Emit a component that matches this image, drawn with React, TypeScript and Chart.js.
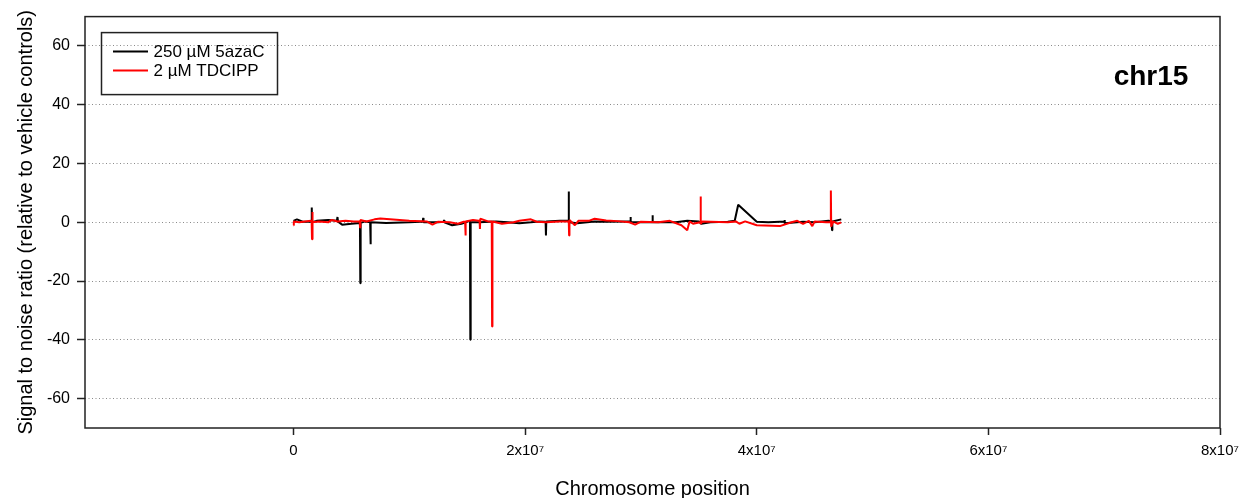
import React, { useEffect, useRef } from "react";
import { Chart, registerables } from "chart.js";

Chart.register(...registerables);

// ---- Data (positions in megabases, values = signal-to-noise ratio) ----
const xTicks = [0, 2e7, 4e7, 6e7, 8e7];
const xTickLabels = ["0", "2x10⁷", "4x10⁷", "6x10⁷", "8x10⁷"];
const yTicks = [-60, -40, -20, 0, 20, 40, 60];

const legendLabels = ["250 µM 5azaC", "2 µM TDCIPP"];
const chromosomeLabel = "chr15";

const azaPositionsMb = [
  0.0, 0.3, 0.8, 1.5, 1.56, 1.58, 1.6, 2.0, 3.0, 3.75, 3.8, 3.85, 4.2, 5.0,
  5.74, 5.77, 5.8, 6.2, 6.62, 6.65, 6.68, 8.0, 10.0, 11.0, 11.17, 11.2, 11.23,
  12.5, 12.97, 13.0, 13.03, 13.7, 14.5, 15.2, 15.24, 15.27, 15.3, 16.0, 17.5,
  18.5, 19.5, 20.5, 21.2, 21.77, 21.8, 21.83, 23.0, 23.73, 23.76, 23.79, 24.5,
  26.0, 27.0, 29.0, 29.07, 29.1, 29.13, 30.5, 30.97, 31.0, 31.03, 33.0, 34.0,
  35.0, 35.2, 36.0, 37.5, 38.1, 38.4, 40.0, 41.0, 42.0, 42.37, 42.4, 42.43,
  44.0, 45.0, 46.2, 46.47, 46.5, 46.53, 47.3,
];
const azaValues = [
  0.5, 1.0, 0.2, 0.3, 0.2, 5.0, 0.0, 0.5, 0.8, 0.5, 1.8, 0.2, -0.8, -0.5,
  -0.2, -20.7, -0.2, 0.3, 0.0, -7.5, 0.0, -0.2, 0.0, 0.2, 0.2, 1.5, 0.0,
  0.0, 0.2, 0.8, 0.0, -1.0, -0.5, 0.5, 0.2, -40.0, 0.0, 0.0, 0.3,
  0.0, -0.3, 0.0, 0.3, 0.2, -4.5, 0.3, 0.5, 0.5, 10.5, 0.0, -0.3,
  0.3, 0.2, 0.3, 0.3, 1.8, 0.0, 0.0, 0.0, 2.4, 0.0, 0.0, 0.5,
  0.3, -0.5, 0.0, 0.2, 0.5, 6.0, 0.2, 0.0, 0.2, 0.2, 0.8, -0.3,
  0.2, 0.0, 0.5, 0.3, -2.7, 0.3, 1.0,
];

const tdcippPositionsMb = [
  0.0, 0.03, 0.5, 1.5, 1.57, 1.6, 1.63, 1.66, 2.2, 3.0, 3.3, 3.8, 4.5, 5.2,
  5.72, 5.75, 5.78, 6.3, 7.0, 7.5, 10.0, 11.5, 12.0, 12.5, 13.5, 14.2, 14.7,
  14.82, 14.85, 14.88, 15.5, 16.0, 16.07, 16.1, 16.13, 16.8, 17.12, 17.15,
  17.18, 18.0, 19.0, 19.5, 20.5, 21.0, 21.8, 23.0, 23.77, 23.8, 23.83, 24.3,
  24.6, 25.5, 26.0, 27.0, 28.0, 29.0, 29.5, 30.0, 31.5, 32.5, 33.5, 34.0, 34.2,
  34.5, 35.12, 35.15, 35.18, 35.3, 37.5, 38.2, 38.5, 39.0, 40.0, 42.0, 43.0,
  43.5, 44.0, 44.5, 44.8, 45.0, 46.0, 46.37, 46.4, 46.43, 46.6, 47.0, 47.3,
];
const tdcippValues = [
  -1.0, 0.3, 0.0, 0.5, 0.3, -5.8, 3.5, 0.0, 0.3, 0.0, 0.8, 0.3, 0.5, 0.3,
  0.3, -1.8, 0.8, 0.3, 1.0, 1.3, 0.5, 0.3, -0.8, 0.2, 0.0, -0.5, 0.2,
  0.2, -4.5, 0.3, 0.8, 0.5, 0.5, -2.3, 1.2, 0.3, 0.3, -35.5,
  0.3, -0.5, 0.0, 0.5, 1.0, 0.2, 0.0, 0.3, 0.3, -4.5, 0.8, -1.0,
  0.5, 0.5, 1.2, 0.6, 0.4, 0.0, -0.8, 0.2, 0.0, 0.5, -1.0, -2.7, 0.3,
  -0.5, 0.0, 8.8, -0.6, 0.3, 0.0, 0.3, -0.5, 0.3, -1.0, -1.3, 0.0,
  0.5, -0.5, 0.5, -1.3, 0.3, 0.0, 0.0, 10.8, -1.5, 0.3, -0.5, 0.0,
];

const FONT = "'Liberation Sans', Arial, Helvetica, sans-serif";

const toPoints = (pos: number[], vals: number[]) =>
  pos.map((p, i) => ({ x: p * 1e6, y: vals[i] }));

const overlayPlugin = {
  id: "overlay",
  afterDraw(chart: any) {
    const { ctx, chartArea } = chart;
    ctx.save();
    // frame
    ctx.strokeStyle = "#222";
    ctx.lineWidth = 1.5;
    ctx.strokeRect(chartArea.left, chartArea.top, chartArea.right - chartArea.left, chartArea.bottom - chartArea.top);

    // legend box
    const lx = chartArea.left + 16.5;
    const ly = chartArea.top + 16;
    ctx.strokeRect(lx, ly, 176, 62);
    const colors = ["#000000", "#ff0000"];
    const rows = [ly + 19, ly + 38];
    ctx.font = `17px ${FONT}`;
    ctx.textBaseline = "middle";
    ctx.textAlign = "left";
    legendLabels.forEach((lab, i) => {
      ctx.strokeStyle = colors[i];
      ctx.lineWidth = 2;
      ctx.beginPath();
      ctx.moveTo(lx + 11.5, rows[i]);
      ctx.lineTo(lx + 46.5, rows[i]);
      ctx.stroke();
      ctx.fillStyle = "#000";
      ctx.fillText(lab, lx + 52, rows[i] + 0.5);
    });

    // chromosome label
    ctx.font = `bold 28px ${FONT}`;
    ctx.textAlign = "center";
    ctx.fillStyle = "#000";
    ctx.fillText(chromosomeLabel, chartArea.right - 69, chartArea.top + 61);
    ctx.restore();
  },
};

export default function App() {
  const ref = useRef<HTMLCanvasElement | null>(null);

  useEffect(() => {
    if (!ref.current) return;
    const chart = new Chart(ref.current, {
      type: "line",
      data: {
        datasets: [
          {
            label: legendLabels[0],
            data: toPoints(azaPositionsMb, azaValues),
            borderColor: "#000000",
            backgroundColor: "#000000",
            borderWidth: 2,
            pointRadius: 0,
            tension: 0,
            borderJoinStyle: "bevel",
            order: 2,
          },
          {
            label: legendLabels[1],
            data: toPoints(tdcippPositionsMb, tdcippValues),
            borderColor: "#ff0000",
            backgroundColor: "#ff0000",
            borderWidth: 2,
            pointRadius: 0,
            tension: 0,
            borderJoinStyle: "bevel",
            order: 1,
          },
        ],
      },
      options: {
        responsive: false,
        animation: false,
        devicePixelRatio: 1,
        layout: { padding: { left: 0, right: 26, top: 15.5, bottom: 0 } },
        plugins: {
          legend: { display: false },
          tooltip: { enabled: false },
        },
        scales: {
          x: {
            type: "linear",
            min: -1.8e7,
            max: 8e7,
            afterBuildTicks: (scale: any) => {
              scale.ticks = xTicks.map((v) => ({ value: v }));
            },
            afterFit: (scale: any) => {
              scale.height = 70;
            },
            border: { display: false },
            grid: {
              drawOnChartArea: false,
              drawTicks: true,
              tickLength: 7,
              tickColor: "#222",
              tickWidth: 1.5,
              color: "#222",
            },
            ticks: {
              autoSkip: false,
              maxRotation: 0,
              padding: 7,
              color: "#000",
              font: { family: FONT, size: 15 },
              callback: (_v: any, i: number) => xTickLabels[i],
            },
            title: {
              display: true,
              text: "Chromosome position",
              color: "#000",
              font: { family: FONT, size: 20 },
              padding: { top: 0, bottom: -3 },
            },
          },
          y: {
            type: "linear",
            min: -70,
            max: 70,
            afterBuildTicks: (scale: any) => {
              scale.ticks = yTicks.map((v) => ({ value: v }));
            },
            afterFit: (scale: any) => {
              scale.width = 85;
            },
            border: { display: false, dash: [1, 2.5] },
            grid: {
              drawOnChartArea: true,
              drawTicks: true,
              color: "#8a8a8a",
              lineWidth: 1,
              tickLength: 8,
              tickColor: "#222",
              tickWidth: 1.5,
              tickBorderDash: [],
            },
            ticks: {
              autoSkip: false,
              padding: 7,
              color: "#000",
              font: { family: FONT, size: 16 },
            },
            title: {
              display: true,
              text: "Signal to noise ratio (relative to vehicle controls)",
              color: "#000",
              font: { family: FONT, size: 20 },
              padding: { top: 14, bottom: 0 },
            },
          },
        },
      },
      plugins: [overlayPlugin],
    } as any);
    return () => chart.destroy();
  }, []);

  return (
    <div style={{ position: "fixed", left: 0, top: 0, width: 1246, height: 498, background: "#fff" }}>
      <canvas ref={ref} width={1246} height={498} style={{ display: "block" }} />
    </div>
  );
}
